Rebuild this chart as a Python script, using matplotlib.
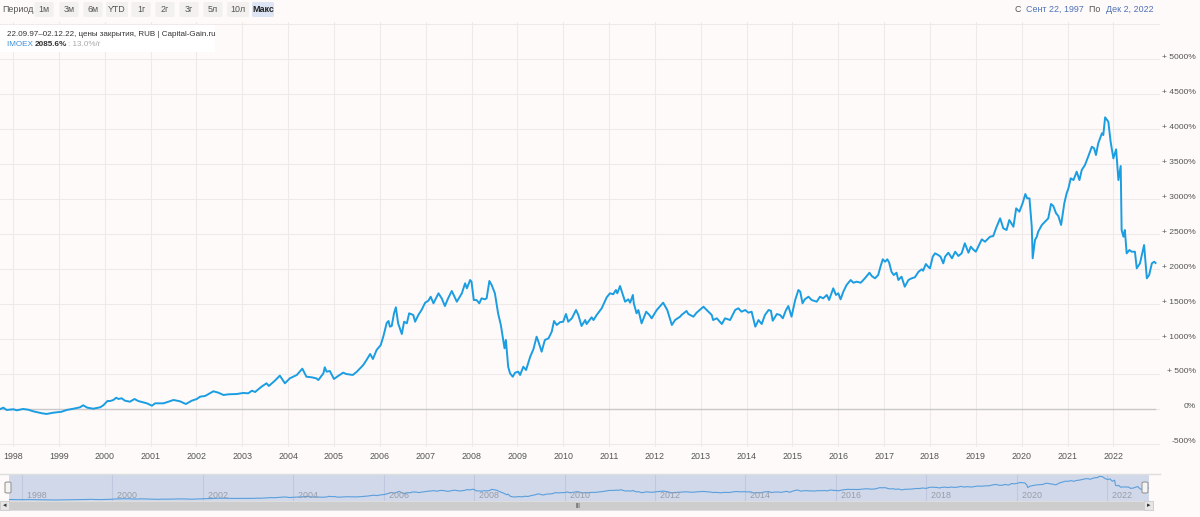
"""IMOEX total return since Sept 1997 (Capital-Gain.ru style chart)."""

import matplotlib

matplotlib.use("Agg")
import matplotlib.pyplot as plt
from matplotlib.patches import FancyBboxPatch, Rectangle
from matplotlib.transforms import ScaledTranslation

# decimal year, return in %
YEARS = [
    1997.72, 1997.79, 1997.86, 1998.01, 1998.08, 1998.22, 1998.33, 1998.44, 1998.63, 1998.73,
    1998.88, 1999.06, 1999.17, 1999.32, 1999.46, 1999.53, 1999.62, 1999.75, 1999.90, 1999.97,
    2000.06, 2000.12, 2000.19, 2000.25, 2000.30, 2000.37, 2000.44, 2000.55, 2000.65, 2000.73,
    2000.92, 2001.03, 2001.10, 2001.28, 2001.39, 2001.50, 2001.64, 2001.77, 2001.90, 2002.01,
    2002.08, 2002.19, 2002.37, 2002.48, 2002.59, 2002.70, 2002.88, 2003.02, 2003.13, 2003.21,
    2003.28, 2003.42, 2003.53, 2003.58, 2003.71, 2003.82, 2003.93, 2004.04, 2004.19, 2004.31,
    2004.40, 2004.51, 2004.61, 2004.66, 2004.77, 2004.80, 2004.84, 2004.91, 2005.00, 2005.09,
    2005.20, 2005.27, 2005.41, 2005.50, 2005.64, 2005.71, 2005.79, 2005.85, 2005.93, 2006.02,
    2006.08, 2006.15, 2006.19, 2006.22, 2006.26, 2006.31, 2006.35, 2006.40, 2006.48, 2006.53,
    2006.59, 2006.64, 2006.73, 2006.77, 2006.84, 2006.91, 2006.99, 2007.06, 2007.11, 2007.17,
    2007.28, 2007.35, 2007.42, 2007.49, 2007.57, 2007.68, 2007.79, 2007.86, 2007.90, 2007.97,
    2008.00, 2008.05, 2008.11, 2008.17, 2008.22, 2008.29, 2008.33, 2008.39, 2008.44, 2008.51,
    2008.58, 2008.64, 2008.69, 2008.72, 2008.75, 2008.80, 2008.84, 2008.90, 2008.95, 2009.02,
    2009.06, 2009.13, 2009.19, 2009.28, 2009.35, 2009.42, 2009.46, 2009.53, 2009.60, 2009.68,
    2009.75, 2009.80, 2009.86, 2009.93, 2010.00, 2010.06, 2010.11, 2010.19, 2010.28, 2010.33,
    2010.40, 2010.48, 2010.51, 2010.62, 2010.66, 2010.73, 2010.84, 2010.95, 2011.02, 2011.09,
    2011.15, 2011.18, 2011.24, 2011.28, 2011.35, 2011.42, 2011.46, 2011.52, 2011.54, 2011.60,
    2011.64, 2011.71, 2011.81, 2011.88, 2011.93, 2012.04, 2012.18, 2012.27, 2012.37, 2012.44,
    2012.55, 2012.58, 2012.69, 2012.73, 2012.84, 2012.91, 2013.06, 2013.13, 2013.24, 2013.27,
    2013.35, 2013.46, 2013.53, 2013.64, 2013.75, 2013.82, 2013.89, 2013.97, 2014.04, 2014.11,
    2014.19, 2014.26, 2014.33, 2014.40, 2014.48, 2014.53, 2014.57, 2014.66, 2014.73, 2014.79,
    2014.86, 2014.91, 2014.98, 2015.06, 2015.13, 2015.17, 2015.22, 2015.27, 2015.35, 2015.42,
    2015.53, 2015.60, 2015.67, 2015.75, 2015.80, 2015.89, 2015.95, 2016.00, 2016.05, 2016.11,
    2016.18, 2016.27, 2016.33, 2016.40, 2016.49, 2016.58, 2016.68, 2016.73, 2016.80, 2016.87,
    2016.92, 2016.97, 2017.02, 2017.07, 2017.11, 2017.16, 2017.21, 2017.27, 2017.31, 2017.38,
    2017.45, 2017.53, 2017.60, 2017.67, 2017.75, 2017.82, 2017.85, 2017.91, 2017.96, 2018.00,
    2018.06, 2018.11, 2018.18, 2018.23, 2018.29, 2018.33, 2018.40, 2018.48, 2018.55, 2018.62,
    2018.69, 2018.76, 2018.84, 2018.89, 2018.94, 2019.00, 2019.13, 2019.20, 2019.31, 2019.38,
    2019.44, 2019.53, 2019.60, 2019.67, 2019.73, 2019.82, 2019.88, 2019.95, 2020.02, 2020.08,
    2020.12, 2020.17, 2020.22, 2020.24, 2020.29, 2020.33, 2020.36, 2020.44, 2020.51, 2020.58,
    2020.64, 2020.69, 2020.75, 2020.80, 2020.86, 2020.93, 2020.98, 2021.02, 2021.07, 2021.13,
    2021.20, 2021.26, 2021.31, 2021.38, 2021.45, 2021.53, 2021.58, 2021.62, 2021.67, 2021.75,
    2021.78, 2021.82, 2021.89, 2021.94, 2022.00, 2022.06, 2022.11, 2022.16, 2022.18, 2022.22,
    2022.25, 2022.29, 2022.35, 2022.40, 2022.47, 2022.51, 2022.58, 2022.67, 2022.73, 2022.78,
    2022.84, 2022.89, 2022.92,
]
RETURNS = [
    0, 19, -14, -4, -19, 0, -10, -33, -61, -71,
    -53, -39, -14, 4, 24, 53, 19, 4, 24, 53,
    114, 114, 129, 161, 143, 153, 119, 104, 143, 114,
    81, 47, 81, 81, 104, 129, 110, 71, 119, 143,
    176, 186, 253, 233, 200, 210, 214, 229, 224, 261,
    243, 319, 367, 329, 404, 476, 367, 439, 486, 576,
    461, 453, 439, 414, 510, 596, 533, 543, 429, 471,
    519, 500, 486, 533, 629, 700, 786, 714, 843, 914,
    1043, 1229, 1257, 1176, 1186, 1367, 1453, 1224, 1071, 1247,
    1224, 1367, 1343, 1247, 1343, 1414, 1519, 1547, 1604, 1510,
    1653, 1581, 1471, 1581, 1686, 1533, 1653, 1796, 1724, 1843,
    1819, 1557, 1557, 1510, 1581, 1567, 1581, 1829, 1771, 1653,
    1367, 1200, 986, 867, 986, 604, 510, 461, 519, 533,
    486, 604, 557, 747, 853, 1033, 961, 819, 986, 1010,
    1104, 1257, 1200, 1240, 1247, 1357, 1247, 1296, 1414, 1343,
    1186, 1271, 1214, 1310, 1271, 1343, 1439, 1596, 1653, 1639,
    1700, 1653, 1757, 1676, 1533, 1567, 1519, 1629, 1510, 1367,
    1414, 1224, 1390, 1343, 1296, 1414, 1519, 1414, 1200, 1271,
    1319, 1343, 1400, 1357, 1319, 1376, 1461, 1414, 1343, 1271,
    1296, 1214, 1296, 1271, 1414, 1439, 1390, 1414, 1376, 1390,
    1176, 1271, 1214, 1343, 1414, 1404, 1261, 1357, 1343, 1296,
    1414, 1471, 1319, 1557, 1700, 1676, 1510, 1567, 1604, 1557,
    1533, 1604, 1581, 1629, 1557, 1724, 1629, 1653, 1567, 1676,
    1771, 1843, 1804, 1819, 1804, 1867, 1947, 1900, 1867, 1914,
    2033, 2139, 2104, 2139, 2090, 1961, 1914, 1947, 1843, 1890,
    1747, 1843, 1867, 1881, 1961, 1996, 1976, 2071, 2033, 2010,
    2176, 2224, 2200, 2176, 2081, 2176, 2233, 2153, 2247, 2186,
    2224, 2367, 2233, 2319, 2281, 2247, 2424, 2390, 2461, 2471,
    2581, 2724, 2581, 2557, 2700, 2604, 2867, 2819, 2939, 3071,
    3010, 3010, 2604, 2153, 2414, 2461, 2533, 2629, 2676, 2724,
    2929, 2900, 2796, 2757, 2629, 2939, 3081, 3153, 3296, 3271,
    3390, 3271, 3414, 3486, 3604, 3747, 3724, 3629, 3796, 3939,
    3914, 4167, 4104, 3819, 3581, 3710, 3271, 3471, 2557, 2461,
    2557, 2224, 2271, 2247, 2247, 2010, 2081, 2343, 1867, 1914,
    2081, 2104, 2086,
]

Y_TICKS = list(range(-500, 5001, 500))
X_TICKS = list(range(1998, 2023))
NAV_TICKS = list(range(1998, 2023, 2))
PERIOD_BUTTONS = ["1м", "3м", "6м", "YTD", "1г", "2г", "3г", "5л", "10л", "Макс"]

BG = "#fdfaf9"
LINE = "#1b9de2"
GRID = "#efe9e9"
TEXT = "#555555"
FS = 6.4
W, H = 1200, 517


def px_box(x0, y0, x1, y1):
    # pixel box (top-left origin) -> figure fraction rect
    return [x0 / W, 1 - y1 / H, (x1 - x0) / W, (y1 - y0) / H]


def fy(y):
    return 1 - y / H


def fx(x):
    return x / W


def chain_text(fig, x0, y, parts, gap=0):
    """Put text pieces one after another, left to right."""
    renderer = fig.canvas.get_renderer()
    x = x0
    for text, kw in parts:
        t = fig.text(fx(x), fy(y), text, va="center", **kw)
        x = t.get_window_extent(renderer).x1 + gap


plt.rcParams["font.family"] = ["Liberation Sans", "DejaVu Sans"]

fig = plt.figure(figsize=(12, 5.17), dpi=100, facecolor=BG)

# ---- main chart
ax = fig.add_axes(px_box(0, 22, 1160, 447))
ax.set_facecolor(BG)
ax.plot(YEARS, RETURNS, color=LINE, linewidth=1.4, zorder=5)
ax.axhline(0, xmin=0, xmax=1155 / 1160, color="#c9c9c9", linewidth=1.0, zorder=3)
ax.set_xlim(1997.716, 2023.017)
ax.set_ylim(-543, 5529)
for s in ax.spines.values():
    s.set_visible(False)
ax.set_xticks(X_TICKS)
ax.set_xticklabels([str(y) for y in X_TICKS], fontsize=FS, color=TEXT)
ax.set_yticks(Y_TICKS + [5500])
ylabels = []
for v in Y_TICKS:
    if v > 0:
        ylabels.append(f"+ {v}%")
    else:
        ylabels.append(f"{v}%")
ax.set_yticklabels(ylabels + [""], fontsize=6.1, color=TEXT)
ax.yaxis.tick_right()
ax.tick_params(axis="y", length=0, pad=26)
ax.tick_params(axis="x", length=0, pad=3.5)
for lab in ax.get_yticklabels():
    lab.set_horizontalalignment("right")
    lab.set_transform(lab.get_transform() + ScaledTranslation(0, 3 / 100, fig.dpi_scale_trans))
ax.grid(True, color=GRID, linewidth=0.8, zorder=0)

# legend box top-left
fig.patches.append(Rectangle((0, fy(52)), fx(215), (52 - 25) / H, transform=fig.transFigure,
                             facecolor="white", edgecolor="none", zorder=1))
fig.text(fx(7), fy(34), "22.09.97–02.12.22, цены закрытия, RUB | Capital-Gain.ru",
         fontsize=5.8, color="#333333", va="center", zorder=3)
chain_text(fig, 7, 44, [
    ("IMOEX ", dict(fontsize=5.9, color="#3c8fd8", zorder=3)),
    ("2085.6%", dict(fontsize=5.9, color="#333333", fontweight="bold", zorder=3)),
    (": 13.0%/г", dict(fontsize=5.9, color="#aaaaaa", zorder=3)),
])

# ---- header
fig.text(fx(2), fy(9), "Период", fontsize=FS, color=TEXT, va="center")
btn_x = [44, 69, 93, 117, 141, 165, 189, 213, 238, 263]
for name, cx in zip(PERIOD_BUTTONS, btn_x):
    active = name == "Макс"
    wdt = 22 if len(name) > 2 else 19
    fig.patches.append(FancyBboxPatch((fx(cx - wdt / 2), fy(17)), fx(wdt), 15 / H,
                                      boxstyle="round,pad=0,rounding_size=0.002",
                                      transform=fig.transFigure,
                                      facecolor="#dde5f4" if active else "#f3f0f0",
                                      edgecolor="none"))
    fig.text(fx(cx), fy(9), name, fontsize=FS, ha="center", va="center",
             color="#222222" if active else TEXT, fontweight="bold" if active else "normal")

chain_text(fig, 1015, 9, [
    ("С  ", dict(fontsize=FS, color=TEXT)),
    ("Сент 22, 1997", dict(fontsize=FS, color="#4f72b8")),
    ("  По  ", dict(fontsize=FS, color=TEXT)),
    ("Дек 2, 2022", dict(fontsize=FS, color="#4f72b8")),
])

# ---- navigator
fig.lines.append(plt.Line2D([0, fx(1160)], [fy(474), fy(474)], transform=fig.transFigure,
                            color="#dedede", linewidth=1))
nav = fig.add_axes(px_box(9, 475, 1149, 501))
nav.set_facecolor("#d0d8ea")
nav.plot(YEARS, RETURNS, color="#5a9fdc", linewidth=0.8)
nav.set_xlim(1997.72, 2022.92)
nav.set_ylim(-250, 4400)
for s in nav.spines.values():
    s.set_visible(False)
nav.set_xticks(NAV_TICKS)
nav.set_yticks([])
nav.tick_params(axis="x", length=0, labelbottom=False)
nav.grid(True, axis="x", color="#bfc8de", linewidth=0.8)
for yr in NAV_TICKS:
    nav.text(yr, 0.03, "  " + str(yr), transform=nav.get_xaxis_transform(), fontsize=FS,
             color="#9a9ca6", va="bottom", ha="left")

# handles
for hx in [8, 1145]:
    fig.patches.append(FancyBboxPatch((fx(hx - 3), fy(493)), fx(6), 11 / H,
                                      boxstyle="round,pad=0,rounding_size=0.002",
                                      transform=fig.transFigure, facecolor="#f4f4f4",
                                      edgecolor="#999999", linewidth=0.8, zorder=5))

# scrollbar
fig.patches.append(Rectangle((fx(0), fy(510)), fx(1153), 9 / H, transform=fig.transFigure,
                             facecolor="#cdcdcd", edgecolor="#dddddd", linewidth=0.6))
for bx in [0, 1144]:
    fig.patches.append(Rectangle((fx(bx), fy(510)), fx(9), 9 / H, transform=fig.transFigure,
                                 facecolor="#e6e6e6", edgecolor="#cccccc", linewidth=0.6))
fig.text(fx(4.5), fy(505.5), "◂", fontsize=5, ha="center", va="center", color="#333333",
         family="DejaVu Sans")
fig.text(fx(1148.5), fy(505.5), "▸", fontsize=5, ha="center", va="center", color="#333333",
         family="DejaVu Sans")
fig.text(fx(578), fy(505.5), "|||", fontsize=4.5, ha="center", va="center", color="#444444")

fig.savefig("out.png", dpi=100, facecolor=BG)
